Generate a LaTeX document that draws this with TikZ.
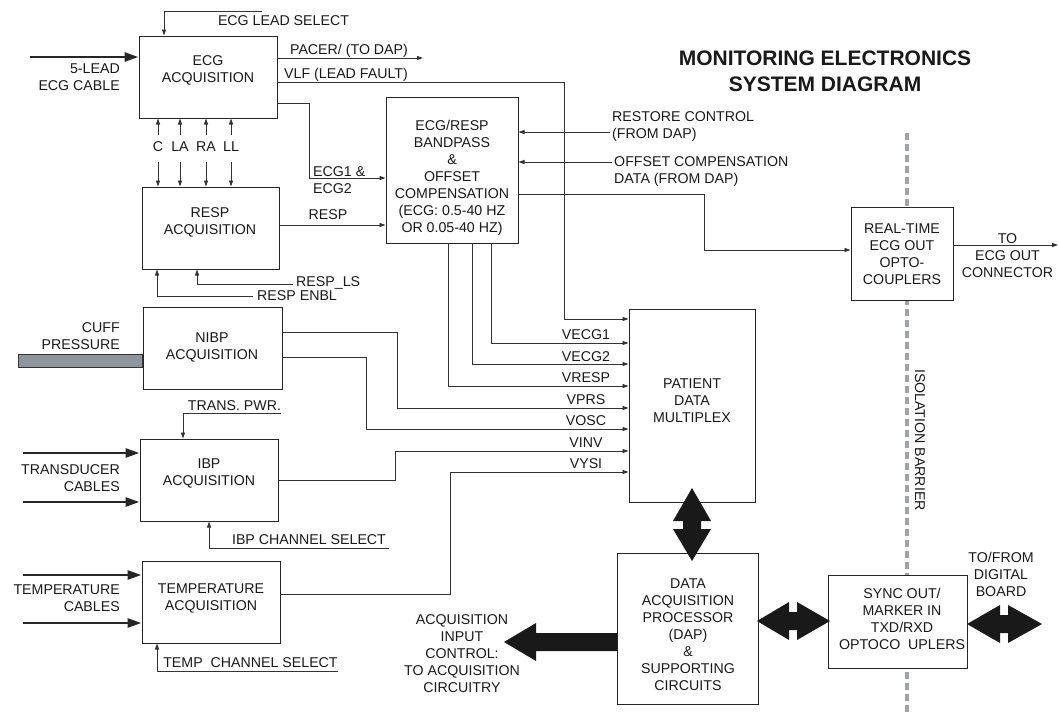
\documentclass[tikz,border=0pt]{standalone}
\usepackage{fontspec}
\setmainfont{Liberation Sans}
\usetikzlibrary{arrows.meta,fit}
\definecolor{cuff}{RGB}{140,150,156}
\definecolor{barrier}{RGB}{160,164,168}
\begin{document}
\begin{tikzpicture}[x=1pt,y=-1pt,
  box/.style={draw=black!85, line width=1pt, fill=white, inner sep=0pt},
  txt/.style={font=\fontsize{14.2pt}{17pt}\selectfont, inner sep=0pt, align=center, text=black!90},
  wire/.style={draw=black!80, line width=0.9pt},
  arr/.style={wire, -{Triangle[length=6pt,width=4pt]}},
  cable/.style={draw=black!85, line width=2.7pt, -{Triangle[length=14pt,width=9pt]}},
  blk/.style={fill=black!90, draw=none},
]
\useasboundingbox (0,0) rectangle (1059,712);

% isolation barrier
\coordinate (isoA) at (907,133);
\coordinate (isoB) at (907,712);
\draw[draw=barrier, line width=4pt, dash pattern=on 7pt off 4pt] (isoA) -- (isoB);
\node[txt, rotate=-90] (isot) at (920,440) {ISOLATION BARRIER};

% boxes
\node[box, fit={(139,36) (277,118)}] (ecg) {};
\node[box, fit={(142,187) (279,269)}] (resp) {};
\node[box, fit={(386,97) (518,243)}] (bp) {};
\node[box, fit={(143,307) (282,389)}] (nibp) {};
\node[box, fit={(140,439) (278,521)}] (ibp) {};
\node[box, fit={(142,561) (280,643)}] (temp) {};
\node[box, fit={(629,309) (755,502)}] (pdm) {};
\node[box, fit={(851,207) (953,300)}] (rt) {};
\node[box, fit={(617,553) (758,704)}] (dap) {};
\node[box, fit={(828,575) (967,668)}] (sync) {};

% box texts
\node[txt] (ecgt) at (208,70.5) {ECG\\ACQUISITION};
\node[txt] (respt) at (210,222) {RESP\\ACQUISITION};
\node[txt] (nibpt) at (212,347) {NIBP\\ACQUISITION};
\node[txt] (ibpt) at (209,473) {IBP\\ACQUISITION};
\node[txt] (tempt) at (211,598.5) {TEMPERATURE\\ACQUISITION};
\node[txt] (bpt) at (452,177.5) {ECG/RESP\\BANDPASS\\\&\\OFFSET\\COMPENSATION\\(ECG: 0.5-40 HZ\\OR 0.05-40 HZ)};
\node[txt] (pdmt) at (692,401) {PATIENT\\DATA\\MULTIPLEX};
\node[txt] (rtt) at (902,254.5) {REAL-TIME\\ECG OUT\\OPTO-\\COUPLERS};
\node[txt] (dapt) at (688,634.5) {DATA\\ACQUISITION\\PROCESSOR\\(DAP)\\\&\\SUPPORTING\\CIRCUITS};
\node[txt] (synct) at (902,619) {SYNC OUT/\\MARKER IN\\TXD/RXD\\OPTOCO\ \ UPLERS};

% title
\node[font=\bfseries\fontsize{21pt}{26pt}\selectfont, align=center, inner sep=0pt, text=black!90] (title) at (825,71.5) {MONITORING ELECTRONICS\\SYSTEM DIAGRAM};

% ECG lead select
\coordinate (els) at (262,11);
\draw[arr] (els) -- (164,11) -- (ecg.north -| 164,0);
\node[txt] (elst) at (283.5,21) {ECG LEAD SELECT};

% 5-lead cable
\coordinate (cab) at (30,57);
\draw[cable] (cab) -- (ecg.west |- cab);
\node[txt, align=right, anchor=east] (cabt) at (120,77.5) {5-LEAD\\ECG CABLE};

% pacer
\coordinate (pac) at (423,58);
\draw[arr] (ecg.east |- pac) -- (pac);
\node[txt] (pact) at (349,51) {PACER/ (TO DAP)};

% VLF
\draw[arr] (ecg.east |- 0,82) -- (564,82) -- (564,319) -- (pdm.west |- 0,319);
\node[txt] (vlft) at (346,75) {VLF (LEAD FAULT)};

% ECG1 & ECG2
\draw[arr] (ecg.east |- 0,103) -- (309,103) -- (309,178) -- (bp.west |- 0,178);
\node[txt, anchor=west] (e1t) at (313,172) {ECG1 \&};
\node[txt, anchor=west] (e2t) at (313,189) {ECG2};

% leads
\foreach \x/\nm in {158/C,180/LA,206/RA,231/LL}{
  \coordinate (lu\nm) at (\x,135);
  \coordinate (ld\nm) at (\x,162);
  \draw[arr] (lu\nm) -- (ecg.south -| lu\nm);
  \draw[arr] (ld\nm) -- (resp.north -| ld\nm);
  \node[txt] (lt\nm) at (\x,147) {\nm};
}

% RESP
\draw[arr] (resp.east |- 0,225) -- (bp.west |- 0,225);
\node[txt] (resplab) at (328,215) {RESP};

% RESP_LS, RESP ENBL
\coordinate (rls) at (293,284);
\draw[arr] (rls) -- (197,284) -- (resp.south -| 197,0);
\node[txt, anchor=west] (rlst) at (296,283) {RESP\_LS};
\coordinate (ren) at (253,296);
\draw[arr] (ren) -- (157,296) -- (resp.south -| 157,0);
\node[txt, anchor=west] (rent) at (257,296) {RESP ENBL};

% restore / offset
\coordinate (rst) at (610,132);
\draw[arr] (rst) -- (bp.east |- rst);
\node[txt, align=left, anchor=west] (rstt) at (612,126.5) {RESTORE CONTROL\\(FROM DAP)};
\coordinate (ofs) at (612,162);
\draw[arr] (ofs) -- (bp.east |- ofs);
\node[txt, align=left, anchor=west] (ofst) at (614,171.5) {OFFSET COMPENSATION\\DATA (FROM DAP)};

% BP -> RT
\draw[arr] (bp.east |- 0,194) -- (704,194) -- (704,250) -- (rt.west |- 0,250);

% RT -> connector
\coordinate (con) at (1058,245);
\draw[arr] (rt.east |- con) -- (con);
\node[txt] (cont) at (1007.5,256) {TO\\ECG OUT\\CONNECTOR};

% PDM inputs
\draw[arr] (bp.south -| 491,0) -- (491,343) -- (pdm.west |- 0,343);
\draw[arr] (bp.south -| 472,0) -- (472,364) -- (pdm.west |- 0,364);
\draw[arr] (bp.south -| 448,0) -- (448,386) -- (pdm.west |- 0,386);
\draw[arr] (nibp.east |- 0,332) -- (397,332) -- (397,408) -- (pdm.west |- 0,408);
\draw[arr] (nibp.east |- 0,357) -- (366,357) -- (366,429) -- (pdm.west |- 0,429);
\draw[arr] (ibp.east |- 0,480) -- (395,480) -- (395,451) -- (pdm.west |- 0,451);
\draw[arr] (temp.east |- 0,594) -- (450,594) -- (450,472) -- (pdm.west |- 0,472);
\node[txt] (v1) at (586,335) {VECG1};
\node[txt] (v2) at (586,357) {VECG2};
\node[txt] (v3) at (586,378) {VRESP};
\node[txt] (v4) at (586,400) {VPRS};
\node[txt] (v5) at (586,421) {VOSC};
\node[txt] (v6) at (586,443) {VINV};
\node[txt] (v7) at (586,464) {VYSI};

% cuff
\filldraw[fill=cuff, draw=black!80, line width=1pt] (18,354) rectangle (nibp.west |- 0,367);
\node[txt, align=right, anchor=east] (cufft) at (120,336.5) {CUFF\\PRESSURE};

% trans pwr
\coordinate (tpw) at (281,413);
\draw[arr] (tpw) -- (183,413) -- (ibp.north -| 183,0);
\node[txt] (tpwt) at (234.5,406) {TRANS. PWR.};

% transducer cables
\coordinate (tc1) at (23,453);
\coordinate (tc2) at (23,502);
\draw[cable] (tc1) -- (ibp.west |- tc1);
\draw[cable] (tc2) -- (ibp.west |- tc2);
\node[txt, align=right, anchor=east] (tct) at (120,478.5) {TRANSDUCER\\CABLES};

% IBP channel select
\coordinate (ics) at (389,548);
\draw[arr] (ics) -- (209,548) -- (ibp.south -| 209,0);
\node[txt] (icst) at (309,540) {IBP CHANNEL SELECT};

% temperature cables
\coordinate (mc1) at (23,575);
\coordinate (mc2) at (23,623);
\draw[cable] (mc1) -- (temp.west |- mc1);
\draw[cable] (mc2) -- (temp.west |- mc2);
\node[txt, align=right, anchor=east] (mct) at (120,598.5) {TEMPERATURE\\CABLES};

% temp channel select
\coordinate (tcs) at (338,671);
\draw[arr] (tcs) -- (157,671) -- (temp.south -| 157,0);
\node[txt] (tcst) at (250.5,663) {TEMP\ \ CHANNEL SELECT};

% big arrow to acquisition circuitry
\fill[blk] (617,633) -- (536,633) -- (536,623) -- (504,642) -- (536,661) -- (536,651) -- (617,651) -- cycle;
\node[txt] (acqt) at (462,654) {ACQUISITION\\INPUT\\CONTROL:\\TO ACQUISITION\\CIRCUITRY};

% PDM <-> DAP
\fill[blk] (692,488) -- (711,521) -- (701,521) -- (701,529) -- (711,529) -- (692,561)
  -- (673,529) -- (683,529) -- (683,521) -- (673,521) -- cycle;

% DAP <-> SYNC
\fill[blk] (757,621) -- (789,602) -- (789,612) -- (797,612) -- (797,602) -- (830,621)
  -- (797,640) -- (797,630) -- (789,630) -- (789,640) -- cycle;

% SYNC <-> digital board
\fill[blk] (967,624) -- (1000,605) -- (1000,615) -- (1008,615) -- (1008,605) -- (1042,624)
  -- (1008,643) -- (1008,633) -- (1000,633) -- (1000,643) -- cycle;
\node[txt] (dbt) at (1001,574) {TO/FROM\\DIGITAL\\BOARD};

\end{tikzpicture}
\end{document}
